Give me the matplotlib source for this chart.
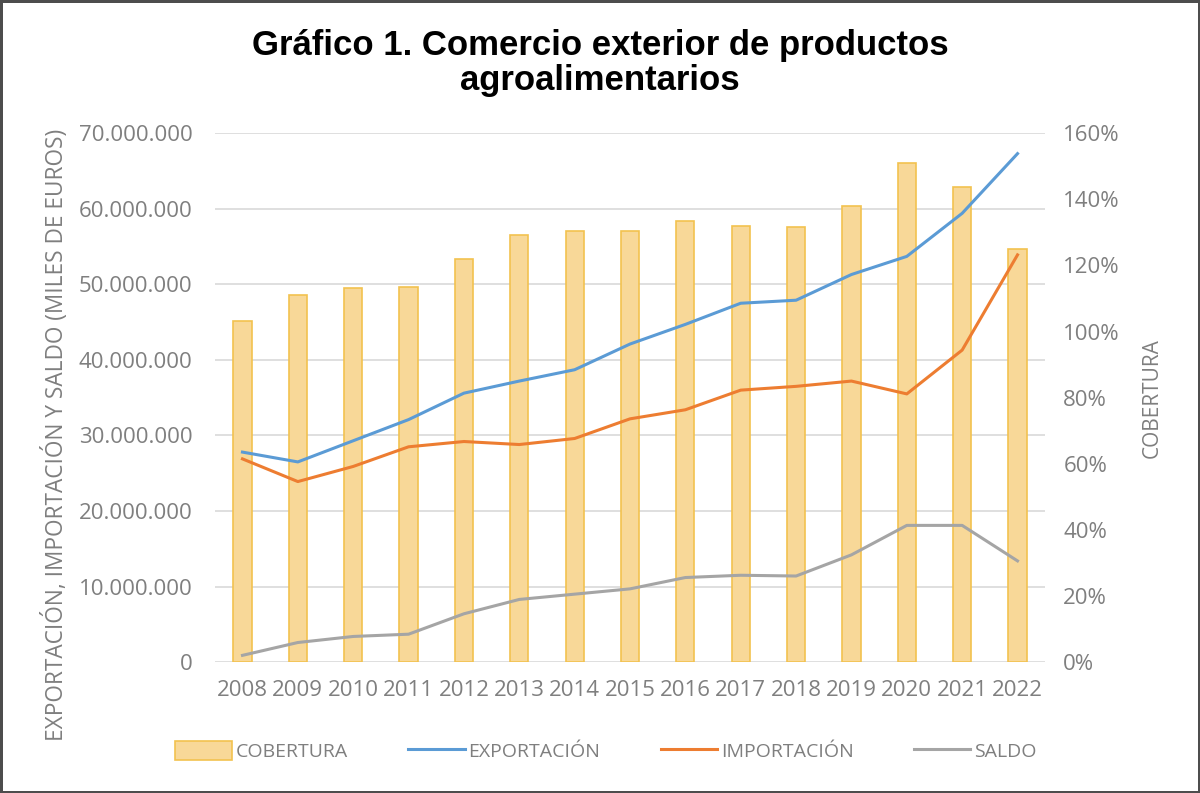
import matplotlib
matplotlib.use("Agg")
import matplotlib.pyplot as plt
from matplotlib.patches import Patch
from matplotlib.lines import Line2D
from matplotlib.ticker import FuncFormatter

# Data (miles de euros / %)
years = [2008, 2009, 2010, 2011, 2012, 2013, 2014, 2015,
         2016, 2017, 2018, 2019, 2020, 2021, 2022]
cobertura = [103.3, 111.1, 113.1, 113.5, 122.1, 129.2, 130.5, 130.3,
             133.4, 132.0, 131.6, 138.1, 150.9, 143.8, 125.1]
exportacion = [27.8, 26.5, 29.3, 32.1, 35.6, 37.2, 38.7, 42.1,
               44.7, 47.5, 47.9, 51.3, 53.7, 59.4, 67.3]
importacion = [26.9, 23.9, 25.9, 28.5, 29.2, 28.8, 29.6, 32.2,
               33.4, 36.0, 36.5, 37.2, 35.5, 41.3, 53.9]
saldo = [0.9, 2.6, 3.4, 3.7, 6.4, 8.3, 9.0, 9.7,
         11.2, 11.5, 11.4, 14.2, 18.1, 18.1, 13.4]

# millions -> miles de euros
exportacion = [v * 1e6 for v in exportacion]
importacion = [v * 1e6 for v in importacion]
saldo = [v * 1e6 for v in saldo]

TXT = "#7f7f7f"
FONT = "Open Sans"
plt.rcParams["font.family"] = [FONT, "DejaVu Sans"]

fig = plt.figure(figsize=(12, 7.93), dpi=100, edgecolor="#4d4d4d", linewidth=2.5)
ax = fig.add_axes([0.179, 0.165, 0.692, 0.667])
ax2 = ax.twinx()
ax3 = ax.twinx()

x = list(range(len(years)))

# grid on bottom axis
ax.set_ylim(0, 70e6)
ax.set_yticks([i * 10e6 for i in range(8)])
ax.yaxis.set_major_formatter(FuncFormatter(lambda v, p: "0" if v == 0 else f"{int(v):,}".replace(",", ".")))
ax.grid(axis="y", color="#d9d9d9", linewidth=1.2)
ax.set_axisbelow(True)
ax.set_xlim(-0.5, len(years) - 0.5)
ax.set_xticks(x)
ax.set_xticklabels([str(y) for y in years])
ax.tick_params(axis="both", length=0, labelsize=16, labelcolor=TXT)
ax.tick_params(axis="y", pad=16)
ax.tick_params(axis="x", pad=13)
ax.set_ylabel("EXPORTACIÓN, IMPORTACIÓN Y SALDO (MILES DE EUROS)",
              fontsize=16.3, color=TXT)
ax.yaxis.set_label_coords(-0.175, 0.43)

# bars (coverage) on right axis
ax2.bar(x, cobertura, width=0.33, color="#f8d898", edgecolor="#f2c24f", linewidth=1.2)
ax2.set_ylim(0, 160)
ax2.set_yticks(range(0, 161, 20))
ax2.yaxis.set_major_formatter(FuncFormatter(lambda v, p: f"{int(v)}%"))
ax2.tick_params(axis="y", length=0, labelsize=16, labelcolor=TXT, pad=13)
ax2.set_ylabel("COBERTURA", fontsize=15, color=TXT)
ax2.yaxis.set_label_coords(1.116, 0.5)

# lines on top axis
ax3.plot(x, exportacion, color="#5b9bd5", linewidth=2.2)
ax3.plot(x, importacion, color="#ed7d31", linewidth=2.2)
ax3.plot(x, saldo, color="#a5a5a5", linewidth=2.2)
ax3.set_ylim(ax.get_ylim())
ax3.set_yticks([])

for a in (ax, ax2, ax3):
    for s in a.spines.values():
        s.set_visible(False)

fig.text(0.5, 0.943, "Gráfico 1. Comercio exterior de productos",
         ha="center", va="center", fontsize=25, fontweight="bold",
         family="Liberation Sans")
fig.text(0.5, 0.899, "agroalimentarios",
         ha="center", va="center", fontsize=25, fontweight="bold",
         family="Liberation Sans")

handles = [
    Patch(facecolor="#f8d898", edgecolor="#f2c24f", linewidth=1.2),
    Line2D([], [], color="#5b9bd5", linewidth=2.2),
    Line2D([], [], color="#ed7d31", linewidth=2.2),
    Line2D([], [], color="#a5a5a5", linewidth=2.2),
]
labels = ["COBERTURA", "EXPORTACIÓN", "IMPORTACIÓN", "SALDO"]
leg = fig.legend(handles, labels, loc="center", bbox_to_anchor=(0.505, 0.053), ncol=4,
                 frameon=False, fontsize=14, handlelength=2.9, handleheight=1.1,
                 handletextpad=0.2, columnspacing=3.1)
for t in leg.get_texts():
    t.set_color(TXT)

fig.savefig("out.png", dpi=100)
